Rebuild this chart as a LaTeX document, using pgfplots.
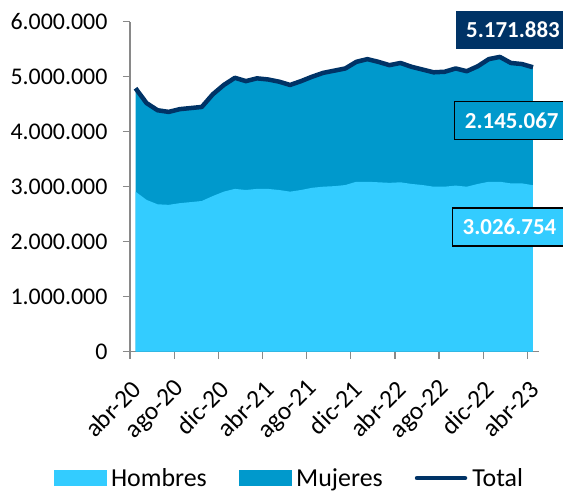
\documentclass[border=0pt]{standalone}
\usepackage{pgfplots}
\pgfplotsset{compat=1.18}
\usepackage{pgfplotstable}
\usepackage{fontspec}
\setmainfont{Carlito}
\definecolor{hom}{HTML}{33CCFF}
\definecolor{muj}{HTML}{0099CC}
\definecolor{tot}{HTML}{003366}
\definecolor{axgray}{HTML}{898989}

\pgfplotstableread{
x hom muj tot
0 2910000 1880000 4790000
1 2760000 1760000 4520000
2 2680000 1710000 4390000
3 2670000 1690000 4360000
4 2700000 1710000 4410000
5 2720000 1710000 4430000
6 2740000 1710000 4450000
7 2830000 1850000 4680000
8 2910000 1940000 4850000
9 2960000 2020000 4980000
10 2940000 1980000 4920000
11 2960000 2010000 4970000
12 2960000 1990000 4950000
13 2940000 1970000 4910000
14 2910000 1940000 4850000
15 2940000 1980000 4920000
16 2980000 2020000 5000000
17 3000000 2070000 5070000
18 3010000 2100000 5110000
19 3030000 2120000 5150000
20 3090000 2180000 5270000
21 3090000 2230000 5320000
22 3080000 2190000 5270000
23 3070000 2140000 5210000
24 3080000 2170000 5250000
25 3050000 2130000 5180000
26 3030000 2100000 5130000
27 3000000 2080000 5080000
28 3000000 2090000 5090000
29 3020000 2130000 5150000
30 3000000 2100000 5100000
31 3050000 2140000 5190000
32 3090000 2230000 5320000
33 3090000 2270000 5360000
34 3060000 2190000 5250000
35 3060000 2170000 5230000
36 3026754 2145067 5171883
}\datatable

\begin{document}
\begin{tikzpicture}
\begin{axis}[
  at={(0,0)}, anchor=south west,
  scale only axis,
  width=408.5bp, height=330bp,
  xmin=-0.5, xmax=36.5,
  ymin=0, ymax=6000000,
  axis x line*=bottom, axis y line*=left,
  axis line style={axgray, line width=1.3bp, -},
  tick style={axgray, line width=1.3bp},
  tick align=outside,
  major tick length=7bp,
  xtick={-0.5,3.5,7.5,11.5,15.5,19.5,23.5,27.5,31.5,35.5},
  xticklabels={abr-20,ago-20,dic-20,abr-21,ago-21,dic-21,abr-22,ago-22,dic-22,abr-23},
  xticklabel style={xshift=9bp, yshift=-24bp, rotate=45, anchor=east, font=\fontsize{25.5}{25.5}\selectfont},
  ytick={0,1000000,...,6000000},
  yticklabel style={xshift=-12bp, font=\fontsize{24}{24}\selectfont},
  scaled y ticks=false,
  /pgf/number format/.cd, fixed, precision=0, 1000 sep={.}, assume math mode=true,
  /pgfplots/.cd,
  legend style={draw=none, fill=none, at={(0.39,-0.383)}, anchor=center,
    legend columns=3, font=\fontsize{26}{26}\selectfont,
    /tikz/every even column/.append style={column sep=30bp},
    /tikz/every odd column/.append style={column sep=3bp}},
  legend cell align=left,
]
\addplot[draw=none, fill=muj, forget plot] table[x=x, y=tot] {\datatable} \closedcycle;
\addplot[draw=none, fill=hom, forget plot] table[x=x, y=hom] {\datatable} \closedcycle;
\addplot[tot, line width=4.5bp, line join=round, forget plot] table[x=x, y=tot] {\datatable};
\addlegendimage{legend image code/.code={\fill[hom] (0bp,-7.5bp) rectangle (52bp,7.5bp);}}
\addlegendentry{Hombres}
\addlegendimage{legend image code/.code={\fill[muj] (0bp,-7.5bp) rectangle (52bp,7.5bp);}}
\addlegendentry{Mujeres}
\addlegendimage{legend image code/.code={\draw[tot, line width=4.5bp, line cap=round] (2bp,0bp) -- (50bp,0bp);}}
\addlegendentry{Total}
\end{axis}
\node[fill=tot, text=white, minimum width=114bp, minimum height=38bp, inner sep=0pt,
  font=\bfseries\fontsize{23}{23}\selectfont] at (383bp,321.7bp) {5.171.883};
\node[fill=muj, draw=black, line width=1.5bp, text=white, minimum width=114bp, minimum height=38bp, inner sep=0pt,
  font=\bfseries\fontsize{23}{23}\selectfont] at (381.7bp,231.2bp) {2.145.067};
\node[fill=hom, draw=black, line width=1.5bp, text=white, minimum width=114bp, minimum height=38bp, inner sep=0pt,
  font=\bfseries\fontsize{23}{23}\selectfont] at (379.5bp,124.9bp) {3.026.754};
\pgfresetboundingbox
\path[use as bounding box] (-130bp,-140.3bp) rectangle (433bp,351.7bp);
\end{tikzpicture}
\end{document}
